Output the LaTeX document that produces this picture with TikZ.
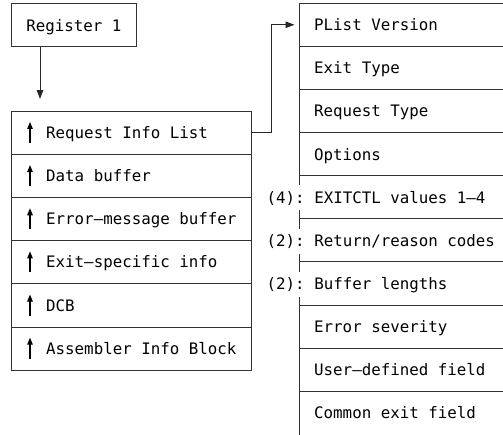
\documentclass[tikz,border=0pt]{standalone}
\usepackage{fontspec}
\setmonofont{DejaVu Sans Mono}
\usetikzlibrary{arrows.meta}

\begin{document}
\begin{tikzpicture}[x=1pt,y=-1pt,
  rule/.style={draw=black!80,line width=0.9pt},
  txt/.style={font=\fontsize{15.8}{18}\selectfont\ttfamily,text=black,
    inner sep=0pt,text height=15pt,text depth=3pt},
  regbox/.style={rule,txt,minimum width=125pt,minimum height=43.15pt,anchor=north west},
  cell/.style={rule,minimum width=240pt,minimum height=43.15pt,inner sep=0pt,anchor=north west},
  field/.style={minimum width=204pt,minimum height=43.15pt,inner sep=0pt,anchor=north west},
  ptr/.style={draw=black!85,line width=0.9pt,-{Triangle[width=6.5pt,length=9pt]}},
  upptr/.style={draw=black,line width=1.1pt,-{Triangle[width=5.5pt,length=7pt]}}]
\def\h{43.15}
\useasboundingbox (0,0) rectangle (503,434);

% register pointing at the parameter list
\node[regbox] (reg) at (11,3) {Register 1};
\coordinate (listin) at (40,99);
\draw[ptr] (reg.south west -| listin) -- (listin);

% parameter list: six address words
\foreach \t [count=\j from 0] in {Request Info List,Data buffer,Error—message buffer,%
    Exit—specific info,DCB,Assembler Info Block}{
  \node[cell] (L\j) at (11,{3+(2.5+\j)*\h}) {};
  \node[txt,anchor=west] (Lt\j) at (46,{3+(3+\j)*\h}) {\t};
  \draw[upptr] (30,{3+(3+\j)*\h+10.5}) -- (30,{3+(3+\j)*\h-10.5});
}

% request information list fields
\foreach \i in {0,...,9}{
  \node[field] (R\i) at (299,{3+\i*\h}) {};
  \draw[rule] (R\i.north west) -- (R\i.north east);
}
\foreach \i/\t in {0/PList Version,1/Exit Type,2/Request Type,3/Options,%
    7/Error severity,8/User—defined field,9/Common exit field}{
  \node[txt,anchor=west] (Rt\i) at (314,{3+(\i+0.5)*\h}) {\t};
}
\node[txt,anchor=west] (Rt4) at (266.5,{3+4.5*\h}) {(4): EXITCTL values 1—4};
\node[txt,anchor=west] (Rt5) at (266.5,{3+5.5*\h}) {(2): Return/reason codes};
\node[txt,anchor=west] (Rt6) at (266.5,{3+6.5*\h}) {(2): Buffer lengths};

% left edge of the field list, broken where the repeat counts sit
\draw[rule] (R0.north west) -- ([yshift=12pt]R4.west);
\draw[rule] ([yshift=-13pt]R4.west) -- ([yshift=12pt]R5.west);
\draw[rule] ([yshift=-13pt]R5.west) -- ([yshift=12pt]R6.west);
\draw[rule] ([yshift=-13pt]R6.west) -- (R9.south west);

% first word points at the field list
\draw[ptr,shorten >=4.5pt] (L0.east) -- ++(20,0) |- (R0.west);
\end{tikzpicture}
\end{document}
